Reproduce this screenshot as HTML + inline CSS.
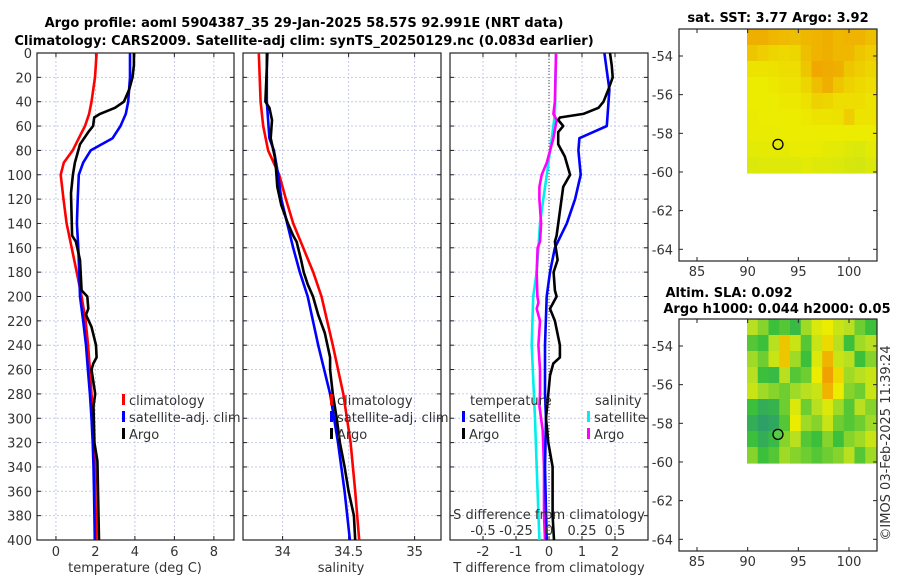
<!DOCTYPE html>
<html><head><meta charset="utf-8"><style>
body{margin:0;background:#fff}
svg{display:block;font-family:"DejaVu Sans","Liberation Sans",sans-serif}
.t{font-size:13px;fill:#333}
.b{font-size:13px;font-weight:bold;fill:#000}
.g{stroke:#c6cbea;stroke-width:1;stroke-dasharray:2,2}
</style></head><body>
<svg id="c" width="900" height="580" viewBox="0 0 900 580"></svg>
<script>
// ---- data ----
const tClimD=[0,20,40,50,60,70,80,90,100,120,140,160,180,200,220,240,260,280,300,320,340,360,380,400];
const tClimV=[2.06,1.98,1.8,1.68,1.47,1.16,0.85,0.4,0.24,0.38,0.54,0.8,1.05,1.3,1.5,1.63,1.72,1.8,1.88,1.94,1.98,2.0,2.02,2.04];
const tSatD=[0,20,40,50,60,70,80,90,100,120,140,160,180,200,220,240,260,280,300,320,340,360,380,400];
const tSatV=[3.75,3.75,3.66,3.54,3.27,2.87,1.76,1.38,1.16,1.1,1.06,1.13,1.18,1.22,1.38,1.52,1.62,1.72,1.8,1.86,1.9,1.93,1.95,1.97];
const tArgoD=[0,10,20,30,40,45,50,53,60,65,75,90,100,115,150,155,170,195,200,210,215,225,240,250,255,260,280,290,320,335,400];
const tArgoV=[3.95,3.95,3.88,3.71,3.44,2.99,2.23,1.94,1.88,1.64,1.22,0.96,0.86,0.76,0.82,1.01,1.22,1.3,1.59,1.64,1.52,1.8,2.03,2.06,1.89,1.8,1.99,1.9,1.95,2.1,2.18];
const sClimD=[0,40,60,80,100,120,140,160,180,200,240,280,320,360,400];
const sClimV=[33.82,33.833,33.853,33.89,33.974,34.025,34.08,34.156,34.232,34.295,34.38,34.46,34.515,34.55,34.58];
const sSatD=[0,40,70,80,100,120,140,160,180,200,240,280,320,360,400];
const sSatV=[33.88,33.88,33.9,33.934,33.967,33.99,34.035,34.08,34.13,34.19,34.27,34.36,34.42,34.47,34.51];
const sArgoD=[0,40,45,55,70,85,95,110,125,140,150,155,170,180,190,200,215,230,250,260,280,300,320,340,360,380,400];
const sArgoV=[33.885,33.87,33.9,33.92,33.91,33.94,33.95,33.96,33.99,34.04,34.08,34.106,34.14,34.16,34.19,34.23,34.27,34.32,34.36,34.36,34.38,34.41,34.434,34.47,34.5,34.54,34.55];
const dtArgoD=[0,10,20,30,40,45,50,53,55,60,65,75,85,100,110,130,150,155,170,180,195,200,210,220,240,250,255,265,280,300,320,340,380,400];
const dtArgoV=[1.85,1.9,1.93,1.8,1.65,1.5,1.04,0.33,0.28,0.43,0.28,0.28,0.48,0.64,0.43,0.33,0.23,0.18,0.26,0.14,0.18,0.23,0.03,0.18,0.33,0.33,0.13,0.03,-0.02,-0.09,-0.02,0.11,0.11,0.15];
const dtSatD=[0,20,30,60,70,80,100,120,140,160,180,200,240,280,300,340,400];
const dtSatV=[1.68,1.78,1.83,1.75,0.92,0.89,0.96,0.79,0.54,0.18,0.03,-0.07,-0.12,-0.12,-0.09,-0.12,-0.07];
const dsSatD=[0,50,60,80,100,120,140,160,180,200,240,300,340,400];
const dsSatV=[0.053,0.045,0.033,0.008,-0.017,-0.043,-0.068,-0.08,-0.093,-0.12,-0.131,-0.106,-0.093,-0.073];
const dsArgoD=[0,40,50,55,70,80,90,100,110,120,140,155,160,180,200,205,210,220,240,260,280,290,310,340,380,400];
const dsArgoV=[0.053,0.045,0.033,0.058,0.033,0.008,-0.017,-0.055,-0.073,-0.073,-0.06,-0.068,-0.086,-0.093,-0.088,-0.08,-0.093,-0.068,-0.08,-0.068,-0.068,-0.073,-0.048,-0.038,-0.038,-0.03];
const depthTicks=[0,20,40,60,80,100,120,140,160,180,200,220,240,260,280,300,320,340,360,380,400];
const tTicks=[0,2,4,6,8];
const sTicks=[34,34.5,35];
const sTickLabels=["34","34.5","35"];
const dtTicks=[-2,-1,0,1,2];
const dsTicks=[-0.5,-0.25,0,0.25,0.5];
const dsTickLabels=["-0.5","-0.25","0","0.25","0.5"];
const latTicks=[-54,-56,-58,-60,-62,-64];
const lonTicks=[85,90,95,100];
const sstGrid=[
[.86,.86,.84,.83,.82,.84,.85,.86,.84,.85,.85,.82],
[.8,.78,.76,.75,.76,.82,.85,.86,.84,.84,.8,.78],
[.72,.72,.73,.74,.74,.8,.88,.87,.86,.8,.78,.76],
[.7,.7,.71,.72,.72,.76,.82,.86,.8,.77,.75,.74],
[.7,.7,.7,.71,.71,.73,.77,.76,.74,.74,.74,.72],
[.69,.7,.7,.7,.7,.71,.72,.72,.73,.78,.72,.72],
[.69,.69,.69,.7,.7,.7,.7,.7,.7,.7,.7,.7],
[.67,.68,.68,.68,.69,.69,.69,.68,.67,.66,.65,.67],
[.65,.66,.66,.66,.66,.67,.66,.66,.65,.64,.63,.65]];
const slaGrid=[
[.55,.45,.3,.35,.25,.5,.65,.7,.6,.55,.4,.3],
[.35,.3,.55,.8,.6,.35,.6,.75,.55,.3,.5,.55],
[.5,.4,.6,.8,.5,.3,.65,.85,.6,.55,.3,.45],
[.55,.3,.25,.55,.35,.4,.7,.9,.75,.5,.55,.6],
[.6,.5,.45,.4,.5,.55,.6,.85,.7,.45,.4,.6],
[.3,.15,.2,.4,.65,.4,.55,.65,.5,.35,.55,.45],
[.15,.05,.1,.35,.7,.5,.45,.6,.4,.35,.4,.5],
[.3,.15,.25,.45,.55,.35,.3,.45,.3,.45,.5,.6],
[.45,.3,.35,.5,.45,.4,.35,.4,.45,.55,.35,.5]];
const argoLon=[92.991], argoLat=[-58.57];

// ---- helpers ----
const svg=document.getElementById('c');const NS='http://www.w3.org/2000/svg';
function mk(tag,at,par){const e=document.createElementNS(NS,tag);for(const k in at)e.setAttribute(k,at[k]);(par||svg).appendChild(e);return e;}
function txt(s,x,y,cls,anchor,name,extra){const e=mk('text',Object.assign({x:x,y:y,class:cls,'text-anchor':anchor||'middle'},extra||{}));e.textContent=s;


return e;}
const Y0=53,Y1=540;const yD=d=>Y0+(Y1-Y0)*d/400;
function panel(x0,x1,dom,xt,name){
 const sx=v=>x0+(x1-x0)*(v-dom[0])/(dom[1]-dom[0]);
 const g=mk('g',{});
 
 
 depthTicks.forEach(d=>{mk('line',{x1:x0,x2:x1,y1:yD(d),y2:yD(d),class:'g'},g);mk('line',{x1:x0,x2:x0+4,y1:yD(d),y2:yD(d),stroke:'#222'},g);mk('line',{x1:x1-4,x2:x1,y1:yD(d),y2:yD(d),stroke:'#222'},g);});
 xt.forEach(v=>{mk('line',{x1:sx(v),x2:sx(v),y1:Y0,y2:Y1,class:'g'},g);mk('line',{x1:sx(v),x2:sx(v),y1:Y1-4,y2:Y1,stroke:'#222'},g);mk('line',{x1:sx(v),x2:sx(v),y1:Y0,y2:Y0+4,stroke:'#222'},g);});
 mk('rect',{x:x0,y:Y0,width:x1-x0,height:Y1-Y0,fill:'none',stroke:'#222','stroke-width':1.2},g);
 return sx;}
function line(D,V,sx,col,name){const p=D.map((d,i)=>(i?'L':'M')+sx(V[i]).toFixed(1)+','+yD(d).toFixed(1)).join('');
 const e=mk('path',{d:p,fill:'none',stroke:col,'stroke-width':2.6,'stroke-linejoin':'round'});
 
 }
function legend(x,y,col,label,name){mk('rect',{x:x-1,y:y-11,width:3,height:11,fill:col});txt(label,x+6,y,'t','start',name);}

// titles
txt('Argo profile: aoml 5904387_35 29-Jan-2025 58.57S 92.991E (NRT data)',304,27,'b','middle','title-line-1');
txt('Climatology: CARS2009. Satellite-adj clim: synTS_20250129.nc (0.083d earlier)',304,45,'b','middle','title-line-2');

// panel 1 temperature
const sxT=panel(37,234,[-0.96,9.02],tTicks,'temperature-panel');
depthTicks.forEach(d=>txt(String(d),32,yD(d)+5,'t','end','depth-tick-label'));
tTicks.forEach(v=>txt(String(v),sxT(v),556,'t','middle','temp-tick-label'));
txt('temperature (deg C)',135,572,'t','middle','temp-x-axis-title');
line(tClimD,tClimV,sxT,'#f00','temp-climatology-line');
line(tSatD,tSatV,sxT,'#00f','temp-satellite-line');
line(tArgoD,tArgoV,sxT,'#000','temp-argo-line');
legend(123,405,'#f00','climatology','legend-climatology');
legend(123,422,'#00f','satellite-adj. clim','legend-satellite');
legend(123,439,'#000','Argo','legend-argo');

// panel 2 salinity
const sxS=panel(243,441,[33.70,35.20],sTicks,'salinity-panel');
sTicks.forEach((v,i)=>txt(sTickLabels[i],sxS(v),556,'t','middle','sal-tick-label'));
txt('salinity',341,572,'t','middle','sal-x-axis-title');
line(sClimD,sClimV,sxS,'#f00','sal-climatology-line');
line(sSatD,sSatV,sxS,'#00f','sal-satellite-line');
line(sArgoD,sArgoV,sxS,'#000','sal-argo-line');
legend(331,405,'#f00','climatology','legend-climatology');
legend(331,422,'#00f','satellite-adj. clim','legend-satellite');
legend(331,439,'#000','Argo','legend-argo');

// panel 3 differences
const sxD=panel(450,648,[-3,3],dtTicks,'difference-panel');
const sxDS=v=>sxD(v*4);
mk('line',{x1:sxD(0),x2:sxD(0),y1:Y0,y2:Y1,stroke:'#444','stroke-dasharray':'1,2'});
dtTicks.forEach(v=>txt(String(v),sxD(v),556,'t','middle','dt-tick-label'));
txt('T difference from climatology',549,572,'t','middle','dt-x-axis-title');
line(dsSatD,dsSatV,sxDS,'#0ee','ds-satellite-line');
line(dsArgoD,dsArgoV,sxDS,'#f0f','ds-argo-line');
line(dtSatD,dtSatV,sxD,'#00f','dt-satellite-line');
line(dtArgoD,dtArgoV,sxD,'#000','dt-argo-line');
txt('S difference from climatology',549,519,'t','middle','ds-axis-title');
dsTicks.forEach((v,i)=>txt(dsTickLabels[i],sxDS(v),535,'t','middle','ds-tick-label'));
txt('temperature',470,405,'t','start','legend-temperature-header');
legend(463,422,'#00f','satellite','legend-t-satellite');
legend(463,439,'#000','Argo','legend-t-argo');
txt('salinity',595,405,'t','start','legend-salinity-header');
legend(588,422,'#0ee','satellite','legend-s-satellite');
legend(588,439,'#f0f','Argo','legend-s-argo');

// maps
const stops=[[0,[42,154,112]],[0.3,[60,192,60]],[0.55,[184,224,32]],[0.7,[236,236,0]],[0.9,[240,160,0]],[1,[224,128,0]]];
function cmap(v){for(let i=1;i<stops.length;i++){if(v<=stops[i][0]){const a=stops[i-1],b=stops[i],f=(v-a[0])/(b[0]-a[0]);return 'rgb('+a[1].map((c,k)=>Math.round(c+(b[1][k]-c)*f)).join(',')+')';}}return 'rgb(224,128,0)';}
function mapPanel(top,grid,name,circFill){
 const x0=679,x1=877,y1=top+232;
 const sx=v=>697+(v-85)*50.67/5, sy=v=>top+27+(-54-v)*19.33;
 const g=mk('g',{});
 
 
 const ix0=747,ix1=876,iy0=top,iy1=top+144;const rows=grid.length,cols=grid[0].length;
 const cw=(ix1-ix0)/cols,ch=(iy1-iy0)/rows;
 grid.forEach((r,i)=>r.forEach((v,j)=>{const c=mk('rect',{x:ix0+j*cw,y:iy0+i*ch,width:cw+0.6,height:ch+0.6,fill:cmap(v)},g);
  
  }));
 mk('rect',{x:x0,y:top,width:x1-x0,height:y1-top,fill:'none',stroke:'#222','stroke-width':1.2},g);
 latTicks.forEach(v=>{mk('line',{x1:x0,x2:x0+4,y1:sy(v),y2:sy(v),stroke:'#222'},g);mk('line',{x1:x1-4,x2:x1,y1:sy(v),y2:sy(v),stroke:'#222'},g);txt(String(v),673,sy(v)+5,'t','end','lat-tick-label');});
 lonTicks.forEach(v=>{mk('line',{x1:sx(v),x2:sx(v),y1:y1-4,y2:y1,stroke:'#222'},g);mk('line',{x1:sx(v),x2:sx(v),y1:top,y2:top+4,stroke:'#222'},g);txt(String(v),sx(v),y1+15,'t','middle','lon-tick-label');});
 const c=mk('circle',{cx:sx(argoLon[0]),cy:sy(argoLat[0]),r:5,fill:circFill,stroke:'#000','stroke-width':1.3},g);
 
 
}
mapPanel(29,sstGrid,'sst-map','none');
mapPanel(319,slaGrid,'sla-map','#5c4');
txt('sat. SST: 3.77 Argo: 3.92',778,22,'b','middle','sst-map-title');
txt('Altim. SLA: 0.092',729,297,'b','middle','sla-map-title-1');
txt('Argo h1000: 0.044 h2000: 0.05',777,313,'b','middle','sla-map-title-2');
txt('©IMOS 03-Feb-2025 11:39:24',890,443,'t','middle','timestamp-credit',{transform:'rotate(-90 890 443)'});
</script>
</body></html>
